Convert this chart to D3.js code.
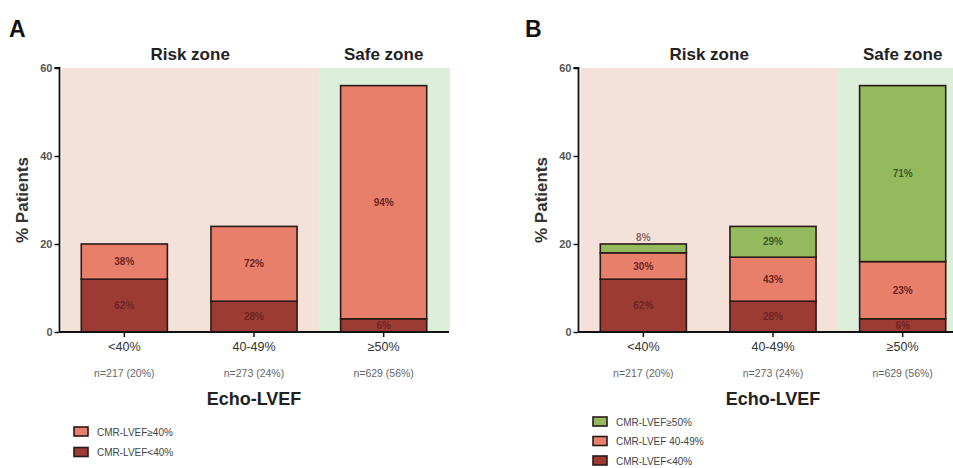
<!DOCTYPE html>
<html><head><meta charset="utf-8">
<script src="https://cdn.jsdelivr.net/npm/d3@7"></script>
<style>body{margin:0;background:#fff}svg{display:block;font-family:"Liberation Sans",Arial,sans-serif}</style>
</head><body><svg id="c" width="953" height="468"></svg>
<script>
// ---- data ----
const categories = ["<40%", "40-49%", "≥50%"];
const nLabels = ["n=217 (20%)", "n=273 (24%)", "n=629 (56%)"];
const yTicks = [0, 20, 40, 60];
// Panel A (% patients per segment)
const aLow = [12, 7, 3];           // CMR-LVEF<40%
const aHigh = [8, 17, 53];         // CMR-LVEF≥40%
const aLowPct = ["62%", "28%", "6%"];
const aHighPct = ["38%", "72%", "94%"];
// Panel B
const bLow = [12, 7, 3];           // CMR-LVEF<40%
const bMid = [6, 10, 13];          // CMR-LVEF 40-49%
const bHigh = [2, 7, 40];          // CMR-LVEF≥50%
const bLowPct = ["62%", "28%", "6%"];
const bMidPct = ["30%", "43%", "23%"];
const bHighPct = ["8%", "29%", "71%"];
const legendA = ["CMR-LVEF≥40%", "CMR-LVEF<40%"];
const legendB = ["CMR-LVEF≥50%", "CMR-LVEF 40-49%", "CMR-LVEF<40%"];

const C = {dark:"#9b3b34", salmon:"#e77f6b", green:"#93bb5d",
  pinkBg:"#f4e1da", greenBg:"#ddefda", stroke:"#2b1a18",
  txtDark:"#6e2522", txtGreen:"#3f5a28"};

const svg = d3.select("#c");

function panel(opt){
  const g = svg.append("g");
  const y = d3.scaleLinear().domain([0, 60]).range([332, 68]);
  const x = d3.scaleBand().domain(categories).range([opt.x0, opt.x0 + 389])
    .paddingInner(0.336).paddingOuter(0.168);
  const step = x.step(), pi = x.paddingInner()*step;
  const split = x(categories[2]) - pi/2;
  const left = opt.x0 + 2;
  // zone backgrounds
  g.append("rect").attr("x", left).attr("y", y(60)).attr("width", split - left)
    .attr("height", y(0) - y(60)).attr("fill", C.pinkBg);
  g.append("rect").attr("x", split).attr("y", y(60)).attr("width", opt.zoneEnd - split)
    .attr("height", y(0) - y(60)).attr("fill", C.greenBg);
  // zone titles
  g.append("text").attr("x", (left + split)/2).attr("y", 60).attr("text-anchor","middle")
    .attr("font-size", 17).attr("font-weight","bold").attr("fill","#222").text("Risk zone");
  g.append("text").attr("x", x(categories[2]) + x.bandwidth()/2).attr("y", 60).attr("text-anchor","middle")
    .attr("font-size", 17).attr("font-weight","bold").attr("fill","#222").text("Safe zone");
  // panel letter
  g.append("text").attr("x", opt.letterX).attr("y", 37).attr("font-size", 23)
    .attr("font-weight","bold").attr("fill","#111").text(opt.letter);

  // stacked bars
  const series = opt.series;
  categories.forEach((cat, i) => {
    let base = 0;
    series.forEach(s => {
      const v = s.values[i];
      g.append("rect").attr("x", x(cat)).attr("width", x.bandwidth())
        .attr("y", y(base + v)).attr("height", y(base) - y(base + v))
        .attr("fill", s.color).attr("stroke", C.stroke).attr("stroke-width", 1.6);
      const above = s.above && s.above[i];
      const ly = above ? y(base + v) - 7 : (y(base) + y(base + v))/2;
      g.append("text").attr("x", x(cat) + x.bandwidth()/2).attr("y", ly)
        .attr("dy", "0.35em").attr("text-anchor","middle").attr("font-size", 10)
        .attr("font-weight","bold").attr("fill", above ? "#8a6e6a" : s.txt)
        .text(s.labels[i]);
      base += v;
    });
  });

  // y axis
  const ya = g.append("g").attr("transform", `translate(${opt.x0},0)`)
    .call(d3.axisLeft(y).tickValues(yTicks).tickSize(5).tickPadding(2));
  ya.select(".domain").attr("stroke","#111").attr("stroke-width",1.8).attr("d", `M-5,${y(60)}H0V${y(0)}`);
  ya.selectAll(".tick line").attr("stroke","#111").attr("stroke-width",1.5);
  ya.selectAll(".tick text").attr("font-size", 11).attr("font-weight","bold").attr("fill","#555")
    .attr("font-family","Liberation Sans, Arial, sans-serif");
  // x axis
  const xa = g.append("g").attr("transform", `translate(0,${y(0)})`)
    .call(d3.axisBottom(x).tickSize(5).tickPadding(5));
  xa.select(".domain").attr("stroke","#111").attr("stroke-width",1.8)
    .attr("d", `M${opt.x0},0H${opt.axisEnd}`);
  xa.selectAll(".tick line").attr("stroke","#111").attr("stroke-width",1.5);
  xa.selectAll(".tick text").attr("font-size", 12.5).attr("fill","#333")
    .attr("font-family","Liberation Sans, Arial, sans-serif");
  // n labels
  categories.forEach((cat, i) => {
    g.append("text").attr("x", x(cat) + x.bandwidth()/2).attr("y", 377).attr("text-anchor","middle")
      .attr("font-size", 10.5).attr("fill","#666").text(nLabels[i]);
  });
  // axis titles
  g.append("text").attr("x", x(categories[1]) + x.bandwidth()/2).attr("y", 405).attr("text-anchor","middle")
    .attr("font-size", 18).attr("font-weight","bold").attr("fill","#222").text("Echo-LVEF");
  g.append("text").attr("transform", `translate(${opt.x0 - 32},${(y(0)+y(60))/2}) rotate(-90)`)
    .attr("text-anchor","middle").attr("font-size", 17).attr("font-weight","bold").attr("fill","#333")
    .text("% Patients");
  // legend
  opt.legend.forEach((lab, i) => {
    const ly = opt.legY + i*opt.legStep;
    g.append("rect").attr("x", opt.legX).attr("y", ly).attr("width", 14).attr("height", 9)
      .attr("fill", opt.legColors[i]).attr("stroke", C.stroke).attr("stroke-width", 1.6);
    g.append("text").attr("x", opt.legX + 23).attr("y", ly + 5).attr("dy","0.35em")
      .attr("font-size", 10).attr("fill","#444").text(lab);
  });
}

panel({x0: 59.5, zoneEnd: 450, axisEnd: 449, letter: "A", letterX: 9,
  series: [
    {values: aLow, labels: aLowPct, color: C.dark, txt: C.txtDark},
    {values: aHigh, labels: aHighPct, color: C.salmon, txt: C.txtDark}
  ],
  legend: legendA, legColors: [C.salmon, C.dark], legX: 74, legY: 427, legStep: 20.5});

panel({x0: 578.5, zoneEnd: 953, axisEnd: 953, letter: "B", letterX: 525,
  series: [
    {values: bLow, labels: bLowPct, color: C.dark, txt: C.txtDark},
    {values: bMid, labels: bMidPct, color: C.salmon, txt: C.txtDark},
    {values: bHigh, labels: bHighPct, color: C.green, txt: C.txtGreen, above: [true, false, false]}
  ],
  legend: legendB, legColors: [C.green, C.salmon, C.dark], legX: 593, legY: 417, legStep: 19.5});
</script></body></html>
